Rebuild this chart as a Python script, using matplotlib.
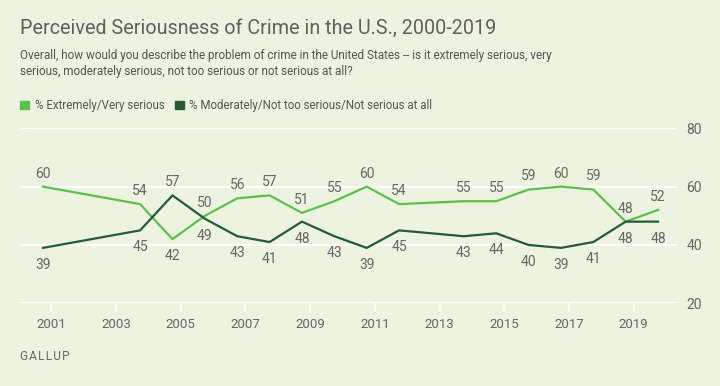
import matplotlib
matplotlib.use('Agg')
import matplotlib.pyplot as plt

# survey fielded in October of each year
years = [2000, 2003, 2004, 2005, 2006, 2007, 2008, 2009, 2010,
         2011, 2013, 2014, 2015, 2016, 2017, 2018, 2019]
serious = [60, 54, 42, 50, 56, 57, 51, 55, 60, 54, 55, 55, 59, 60, 59, 48, 52]
not_serious = [39, 45, 57, 49, 43, 41, 48, 43, 39, 45, 43, 44, 40, 39, 41, 48, 48]
x_ticks = [2001, 2003, 2005, 2007, 2009, 2011, 2013, 2015, 2017, 2019]
y_ticks = [20, 40, 60, 80]

bg = '#ecf3de'
light = '#5cc04e'
dark = '#235b34'
txt = '#666666'

plt.rcParams['font.family'] = ['Roboto', 'DejaVu Sans']

W, H = 720, 386
fig = plt.figure(figsize=(W / 100, H / 100), dpi=100, facecolor=bg)
ax = fig.add_axes([20 / W, 1 - 303.3 / H, 656.5 / W, 175 / H])
ax.set_facecolor(bg)

xs = [y + 0.75 for y in years]
ax.plot(xs, serious, color=light, lw=1.6, zorder=3)
ax.plot(xs, not_serious, color=dark, lw=1.6, zorder=3)

# value labels: higher value above the line, lower value below
for x, a, b in zip(xs, serious, not_serious):
    for v, top in ((a, a >= b), (b, b > a)):
        off = 9.4 if top else -12.2
        ax.annotate(str(v), (x, v), xytext=(0, off), textcoords='offset points',
                    ha='center', va='center', fontsize=10, color=txt)

ax.set_xlim(2000.04, 2020.32)
ax.set_ylim(20, 80)
ax.set_xticks(x_ticks)
ax.set_yticks(y_ticks)
ax.yaxis.tick_right()
ax.grid(axis='y', color='white', lw=1.6)
ax.set_axisbelow(True)
for s in ax.spines.values():
    s.set_visible(False)
ax.tick_params(axis='y', length=0, pad=7, labelsize=10, labelcolor=txt)
ax.tick_params(axis='x', length=6.5, width=1.5, color='white', pad=4,
               labelsize=9.5, labelcolor=txt)

fig.text(20 / W, 1 - 28 / H, 'Perceived Seriousness of Crime in the U.S., 2000-2019',
         fontsize=14.2, color='#5f5f5f', va='center', ha='left')
fig.text(20 / W, 1 - 55 / H,
         'Overall, how would you describe the problem of crime in the United States -- '
         'is it extremely serious, very', fontsize=8.5, color='#555555', va='center')
fig.text(20 / W, 1 - 71 / H,
         'serious, moderately serious, not too serious or not serious at all?',
         fontsize=8.5, color='#555555', va='center')

# legend
leg_y = 1 - 105 / H
fig.patches.append(plt.Rectangle((20 / W, 1 - 109 / H), 9 / W, 8 / H,
                                 transform=fig.transFigure, color=light))
fig.text(35 / W, leg_y, '% Extremely/Very serious', fontsize=8.3, color='#555555', va='center')
fig.patches.append(plt.Rectangle((174.5 / W, 1 - 109 / H), 9 / W, 8 / H,
                                 transform=fig.transFigure, color=dark))
fig.text(189 / W, leg_y, '% Moderately/Not too serious/Not serious at all',
         fontsize=8.3, color='#555555', va='center')

fig.text(20 / W, 1 - 356 / H, 'G A L L U P'.replace(' ', '\u200a'), fontsize=8.5,
         color=txt, va='center')

fig.savefig('out.png', dpi=100, facecolor=bg)
